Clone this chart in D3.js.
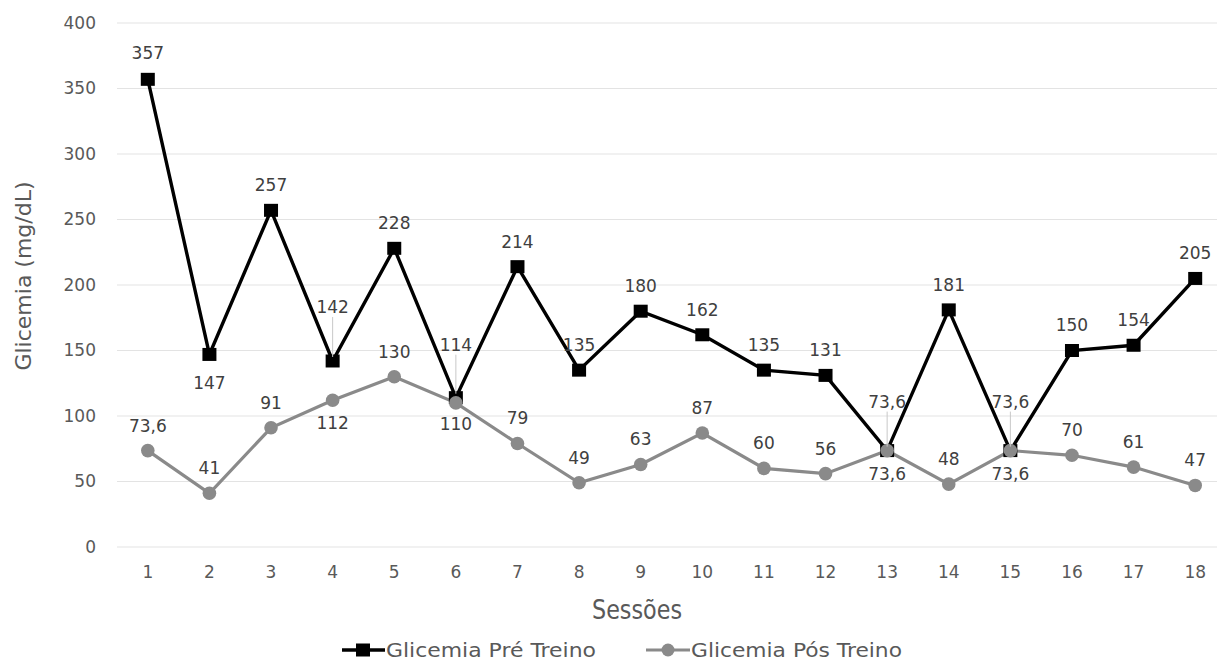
<!DOCTYPE html>
<html><head><meta charset="utf-8">
<script src="https://cdn.jsdelivr.net/npm/d3@7"></script>
<style>body{margin:0;background:#fff}svg{display:block}text{font-family:"DejaVu Sans",sans-serif}</style>
</head><body><svg id="c" width="1217" height="661"></svg>
<script>
const sessions = ["1","2","3","4","5","6","7","8","9","10","11","12","13","14","15","16","17","18"];
const preTreino = [357,147,257,142,228,114,214,135,180,162,135,131,73.6,181,73.6,150,154,205];
const posTreino = [73.6,41,91,112,130,110,79,49,63,87,60,56,73.6,48,73.6,70,61,47];
const yTicks = [0,50,100,150,200,250,300,350,400];
const seriesNames = ["Glicemia Pré Treino","Glicemia Pós Treino"];

// label placement: offset in px (negative = above), leader flag
const preLab = {1:{dy:-26}, 2:{dy:29}, 4:{dy:-54,leader:true}, 6:{dy:-53,leader:true}, 13:{dy:-49,leader:true}, 15:{dy:-49,leader:true}};
const posLab = {4:{dy:23}, 6:{dy:21}, 13:{dy:23}, 15:{dy:23}};

const svg = d3.select("#c");
const x = d3.scaleBand().domain(sessions).range([117,1226]);
const y = d3.scaleLinear().domain([0,400]).range([547,23]);
const fmt = v => String(v).replace(".", ",");
const cx = d => x(d) + x.bandwidth()/2;
const txt = "#595959", lab = "#404040", gray = "#8a8a8a";

// grid
svg.append("g").selectAll("line").data(yTicks).join("line")
  .attr("x1",117).attr("x2",1217).attr("y1",d=>y(d)).attr("y2",d=>y(d))
  .attr("stroke","#e3e3e3").attr("stroke-width",1);

// y axis labels
const ya = svg.append("g").attr("transform","translate(96,0)")
  .call(d3.axisLeft(y).tickValues(yTicks).tickSize(0).tickPadding(0));
ya.select(".domain").remove();
ya.selectAll("text").attr("font-size",17).attr("fill",txt).attr("font-family","DejaVu Sans, sans-serif");

// x axis labels
const xa = svg.append("g").attr("transform","translate(0,565)")
  .call(d3.axisBottom(x).tickSize(0).tickPadding(1));
xa.select(".domain").remove();
xa.selectAll("text").attr("font-size",17).attr("fill",txt).attr("font-family","DejaVu Sans, sans-serif");

// axis titles
svg.append("text").attr("transform","translate(23,276) rotate(-90)").attr("text-anchor","middle")
  .attr("dy","0.35em").attr("font-size",22).attr("fill",txt).text("Glicemia (mg/dL)");
svg.append("text").attr("x",637).attr("y",610).attr("dy","0.35em").attr("text-anchor","middle")
  .attr("font-size",27).attr("fill",txt).attr("font-family","Liberation Sans Narrow, sans-serif")
  .attr("textLength",90).attr("lengthAdjust","spacingAndGlyphs").text("Sessões");

const line = d3.line().x((d,i)=>cx(sessions[i])).y(d=>y(d));

svg.append("path").datum(posTreino).attr("d",line).attr("fill","none").attr("stroke",gray).attr("stroke-width",3.2);
svg.append("path").datum(preTreino).attr("d",line).attr("fill","none").attr("stroke","#000").attr("stroke-width",3.4);

svg.append("g").selectAll("rect").data(preTreino).join("rect")
  .attr("x",(d,i)=>cx(sessions[i])-7).attr("y",d=>y(d)-6.5).attr("width",14).attr("height",13).attr("fill","#000");
svg.append("g").selectAll("circle").data(posTreino).join("circle")
  .attr("cx",(d,i)=>cx(sessions[i])).attr("cy",d=>y(d)).attr("r",6.8).attr("fill",gray);

function labels(data, conf, defDy){
  const g = svg.append("g");
  data.forEach((v,i)=>{
    const c = conf[i+1] || {dy:defDy};
    const px = cx(sessions[i]), py = y(v);
    const ty = py + c.dy;
    if (c.leader) {
      g.append("line").attr("x1",px).attr("x2",px).attr("y1",ty+10).attr("y2",py-4)
        .attr("stroke","#c8c8c8").attr("stroke-width",1);
    }
    g.append("text").attr("x",px).attr("y",ty).attr("dy","0.35em").attr("text-anchor","middle")
      .attr("font-size",17).attr("fill",lab).text(fmt(v));
  });
}
labels(preTreino, preLab, -25);
labels(posTreino, posLab, -25);

// legend
const lg = svg.append("g");
lg.append("line").attr("x1",342).attr("x2",385).attr("y1",650).attr("y2",650).attr("stroke","#000").attr("stroke-width",3.4);
lg.append("rect").attr("x",356).attr("y",643.5).attr("width",14).attr("height",13).attr("fill","#000");
lg.append("text").attr("x",386).attr("y",650).attr("dy","0.35em").attr("font-size",19).attr("fill",txt)
  .attr("textLength",210).attr("lengthAdjust","spacingAndGlyphs").text(seriesNames[0]);
lg.append("line").attr("x1",646).attr("x2",690).attr("y1",650).attr("y2",650).attr("stroke",gray).attr("stroke-width",3.2);
lg.append("circle").attr("cx",668).attr("cy",650).attr("r",6.5).attr("fill",gray);
lg.append("text").attr("x",691).attr("y",650).attr("dy","0.35em").attr("font-size",19).attr("fill",txt)
  .attr("textLength",211).attr("lengthAdjust","spacingAndGlyphs").text(seriesNames[1]);
</script></body></html>
